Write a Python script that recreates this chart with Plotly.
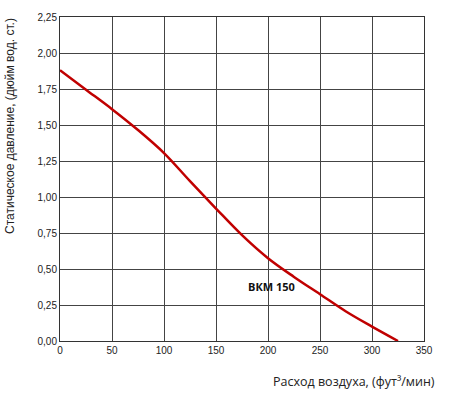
import plotly.graph_objects as go

airflow = [0, 25, 50, 75, 100, 125, 150, 175, 200, 225, 250, 275, 300, 325]
pressure = [1.88, 1.745, 1.61, 1.465, 1.305, 1.11, 0.92, 0.735, 0.575, 0.445, 0.325, 0.205, 0.10, 0.0]
series_name = "ВКМ 150"
x_ticks = [0, 50, 100, 150, 200, 250, 300, 350]
y_ticks = [0, 0.25, 0.5, 0.75, 1.0, 1.25, 1.5, 1.75, 2.0, 2.25]

fig = go.Figure()
fig.add_trace(go.Scatter(
    x=airflow, y=pressure, mode="lines",
    line=dict(color="#c00000", width=2.5, shape="spline", smoothing=1.0),
    showlegend=False, hoverinfo="skip"))

fig.add_annotation(x=203, y=0.378, text="<b>" + series_name + "</b>", showarrow=False,
                   font=dict(family="Open Sans", size=11, color="#111"))

fig.add_annotation(xref="paper", yref="paper", x=1.035, y=-0.125, xanchor="right", yanchor="middle",
                   text="Расход воздуха, (фут³/мин)", showarrow=False,
                   font=dict(family="Open Sans", size=12.5, color="#222"))
fig.add_annotation(xref="paper", yref="paper", x=-0.139, y=0.665, xanchor="center", yanchor="middle",
                   text="Статическое давление, (дюйм вод. ст.)", textangle=-90, showarrow=False,
                   font=dict(family="Liberation Sans", size=12, color="#222"))

axis_common = dict(showgrid=True, gridcolor="#444", gridwidth=1, showline=True, linecolor="#333",
                   linewidth=1, zeroline=False, ticks="", tickfont=dict(family="Liberation Sans", size=10, color="#222"))
fig.update_xaxes(range=[0, 350], tickvals=x_ticks, mirror=True, **axis_common)
fig.update_yaxes(range=[0, 2.25], tickvals=y_ticks, tickformat=".2f", mirror=True, **axis_common)

fig.update_layout(width=450, height=394, margin=dict(l=60, r=25.5, t=11, b=52.5),
                  plot_bgcolor="white", paper_bgcolor="white", separators=", ")
fig.write_html("out.html", config={"displayModeBar": False},
               post_script="document.body.style.margin='0';document.body.style.overflow='hidden';")
